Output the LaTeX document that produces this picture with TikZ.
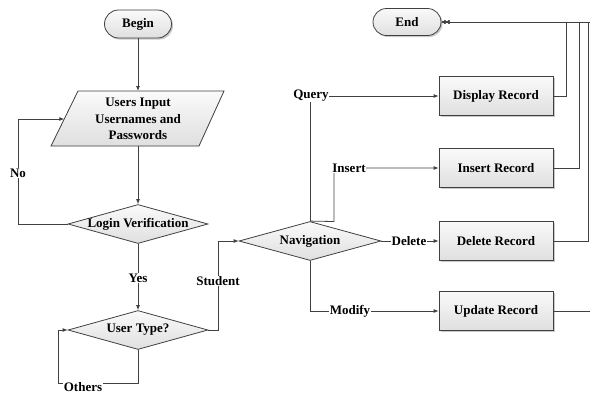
\documentclass[tikz,border=0pt]{standalone}
\usepackage{fontspec}
\setmainfont{Liberation Serif}
\usetikzlibrary{shapes.geometric,arrows.meta,shadows}
\begin{document}
\begin{tikzpicture}[x=1pt,y=-1pt,
  font=\fontsize{13}{16.5}\selectfont\bfseries,
  line width=0.8pt,
  lc/.style={draw=black!75},
  gfill/.style={top color=gray!4, bottom color=gray!25},
  shad/.style={drop shadow={shadow xshift=1.6pt, shadow yshift=-1.6pt, fill=black!35, opacity=0.6}},
  term/.style={lc, gfill, shad, rectangle, rounded corners=13.5pt, minimum width=68pt, minimum height=27pt, inner sep=0pt},
  dec/.style={lc, gfill, diamond, minimum width=140pt, minimum height=39pt, inner sep=0pt},
  proc/.style={lc, gfill, shad, rectangle, minimum width=114pt, minimum height=39pt, inner sep=0pt},
  conn/.style={draw=black!75, line width=0.8pt},
  arr/.style={conn, -{Latex[length=5pt,width=4pt]}},
  arrd/.style={conn, -{Latex[length=4pt,width=4pt]Latex[length=4pt,width=4pt]}},
  lbl/.style={fill=white, inner sep=0.5pt}
]
\useasboundingbox (0,0) rectangle (590,394);

% terminals
\node[term, minimum width=67pt, minimum height=28pt, rounded corners=14pt] (begin) at (138,24) {};
\node at (begin) {Begin};
\node[term] (end) at (407,22) {};
\node at (end) {End};

% input parallelogram
\coordinate (pbl) at (51,146);
\coordinate (ptl) at (78,91);
\coordinate (ptr) at (224,91);
\coordinate (pbr) at (199,146);
\fill[black!35, opacity=0.6, xshift=1.6pt, yshift=-1.6pt] (pbl) -- (ptl) -- (ptr) -- (pbr) -- cycle;
\path[lc, gfill] (pbl) -- (ptl) -- (ptr) -- (pbr) -- cycle;
\node[align=center] (inp) at (138,119) {Users Input\\Usernames and\\Passwords};
\coordinate (inpN) at (138,91);
\coordinate (inpS) at (138,146);
\coordinate (inpW) at (64.3,119);

% decisions
\node[dec] (login) at (138,224) {};
\node at (login) {Login Verification};
\node[dec] (utype) at (138,330) {};
\node at (utype) {User Type?};
\node[dec, minimum width=142pt] (nav) at (310,241) {};
\node at (nav) {Navigation};

% processes
\node[proc] (disp) at (496,96) {};
\node at (disp) {Display Record};
\node[proc] (ins) at (496,168) {};
\node at (ins) {Insert Record};
\node[proc] (del) at (496,241) {};
\node at (del) {Delete Record};
\node[proc] (upd) at (496,311) {};
\node at (upd) {Update Record};

% connectors left part
\draw[arr] (begin.south) -- (inpN);
\draw[arr] (inpS) -- (login.north);
\draw[arr] (login.west) -- (18,224) -- (18,119) -- (inpW);
\node[lbl] (no) at (18,173) {No};
\draw[arr] (login.south) -- (utype.north);
\node[lbl] (yes) at (138,278) {Yes};
\draw[arr] (utype.south) -- (138,383) -- (58,383) -- (58,330) -- (utype.west);
\node[lbl] (others) at (83,387) {Others};
\draw[arr] (utype.east) -- (218,330) -- (218,241) -- (nav.west);
\node[lbl] (student) at (218,281) {Student};

% navigation branches
\draw[arr] (nav.north) -- (310,96) -- (disp.west);
\node[lbl] (query) at (311,96) {Query};
\draw[arr] (nav.north) -- (334,221.5) -- (334,168) -- (ins.west);
\node[lbl] (insert) at (349,168) {Insert};
\draw[arr] (nav.east) -- (del.west);
\node[lbl] (delete) at (409,241) {Delete};
\draw[arr] (nav.south) -- (310,311) -- (upd.west);
\node[lbl] (modify) at (350,311) {Modify};

% returns to end
\draw[arrd] (disp.east) -- (566,96) -- (566,22) -- (end.east);
\draw[arrd] (ins.east) -- (579,168) -- (579,22) -- (end.east);
\draw[arrd] (del.east) -- (588,241) -- (588,22) -- (end.east);
\draw[arrd] (upd.east) -- (594,311) -- (594,22) -- (end.east);
\end{tikzpicture}
\end{document}
